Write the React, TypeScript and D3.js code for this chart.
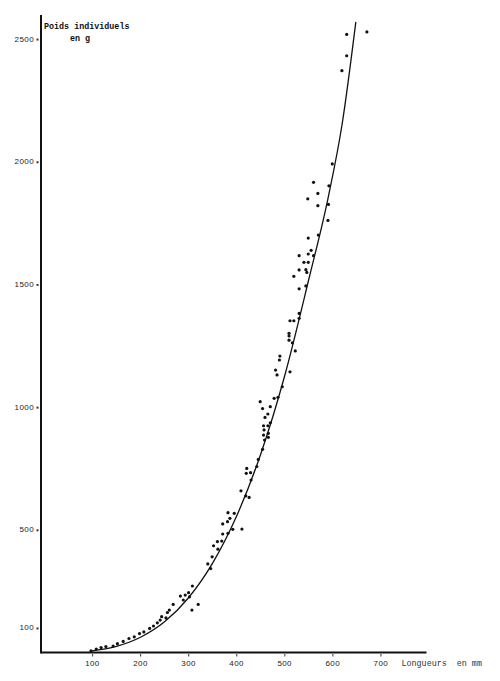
import React from "react";
import * as d3 from "d3";

const sampleLength = [
  97, 108, 118, 128, 143, 152, 164, 176, 187, 198, 207, 219, 227, 235, 241, 244, 253, 256, 260, 268,
  283, 289, 293, 300, 302, 307, 320, 308, 340, 346, 349, 352, 360, 361, 369, 371, 382, 392, 411, 371,
  381, 386, 382, 395, 409, 419, 426, 430, 421, 429, 420, 442, 445, 454, 458, 466, 456, 466, 457, 456,
  465, 470, 459, 465, 454, 470, 449, 478, 486, 495, 481, 484, 511, 490, 489, 522, 516, 509, 509, 509,
  511, 519, 530, 530, 544, 530, 519, 546, 544, 530, 549, 540, 560, 530, 549, 555, 549, 570, 590, 591,
  569, 548, 569, 592, 560, 599, 619, 629, 629, 671,
];
const sampleWeight = [
  7, 14, 20, 24, 26, 36, 45, 57, 64, 77, 84, 98, 108, 121, 132, 146, 141, 163, 173, 196,
  230, 214, 234, 244, 227, 173, 196, 271, 361, 342, 390, 435, 452, 421, 454, 483, 486, 502, 503, 524,
  533, 547, 570, 567, 659, 638, 632, 703, 750, 733, 730, 758, 787, 828, 866, 877, 886, 893, 907, 924,
  924, 936, 958, 972, 994, 1002, 1022, 1036, 1040, 1083, 1151, 1131, 1144, 1208, 1192, 1229, 1262, 1273, 1290, 1301,
  1352, 1352, 1362, 1382, 1494, 1482, 1533, 1549, 1560, 1559, 1590, 1590, 1617, 1617, 1624, 1639, 1689, 1701, 1761, 1826,
  1821, 1849, 1871, 1902, 1916, 1991, 2371, 2432, 2519, 2529,
];

const curveLength = [95, 150, 200, 250, 300, 350, 400, 450, 500, 550, 590, 620, 648];
const curveWeight = [6, 25, 62, 125, 223, 364, 556, 808, 1128, 1520, 1850, 2160, 2570];

const xTicks = [100, 200, 300, 400, 500, 600, 700];
const yTicks = [100, 500, 1000, 1500, 2000, 2500];

const yTitle1 = "Poids individuels";
const yTitle2 = "en g";
const xTitle = "Longueurs  en mm";

export default function App() {
  const W = 500;
  const H = 681;
  const x = d3.scaleLinear().domain([-7, 795]).range([41, 426.5]);
  const y = d3.scaleLinear().domain([0, 2598]).range([652.5, 15]);

  const pts = sampleLength.map((l, i) => [l, sampleWeight[i]] as [number, number]);
  const curvePts = curveLength.map((l, i) => [l, curveWeight[i]] as [number, number]);
  const line = d3
    .line<[number, number]>()
    .x((d) => x(d[0]))
    .y((d) => y(d[1]))
    .curve(d3.curveMonotoneX);

  const x0 = x(-7);
  const x1 = x(795);
  const yBase = y(0);
  const yTop = y(2598);

  return (
    <div style={{ position: "absolute", left: 0, top: 0, width: W, height: H, background: "#fff" }}>
      <svg width={W} height={H} viewBox={`0 0 ${W} ${H}`} style={{ display: "block" }}>
        <rect x={0} y={0} width={W} height={H} fill="#fff" />
        {/* axes */}
        <line x1={x0} y1={yTop} x2={x0} y2={yBase + 1} stroke="#111" strokeWidth={2} />
        <line x1={x0} y1={yBase} x2={x1} y2={yBase} stroke="#111" strokeWidth={2} />

        {/* y ticks */}
        {yTicks.map((t) => (
          <g key={"y" + t}>
            <rect x={36.5} y={y(t) - 0.5} width={2} height={2} fill="#333" />
            <text
              x={34}
              y={y(t) + 2.5}
              textAnchor="end"
              fontFamily="Liberation Sans, Arial, sans-serif"
              fontSize={8}
              letterSpacing={0.4}
              fill="#222"
            >
              {t}
            </text>
          </g>
        ))}

        {/* x ticks */}
        {xTicks.map((t) => (
          <g key={"x" + t}>
            <rect x={x(t) - 0.5} y={yBase + 1.5} width={1.2} height={2.5} fill="#555" />
            <text
              x={x(t)}
              y={yBase + 13}
              textAnchor="middle"
              fontFamily="Liberation Sans, Arial, sans-serif"
              fontSize={8}
              letterSpacing={0.4}
              fill="#222"
            >
              {t}
            </text>
          </g>
        ))}

        {/* titles */}
        <text
          x={44}
          y={29}
          fontFamily="Liberation Mono, Courier New, monospace"
          fontSize={8.4}
          fontWeight="bold"
          fill="#111"
          xmlSpace="preserve"
        >
          {yTitle1}
        </text>
        <text
          x={70}
          y={41}
          fontFamily="Liberation Mono, Courier New, monospace"
          fontSize={8.4}
          fontWeight="bold"
          fill="#111"
        >
          {yTitle2}
        </text>
        <text
          x={401.5}
          y={yBase + 13}
          fontFamily="Liberation Mono, Courier New, monospace"
          fontSize={8.4}
          fill="#333"
          style={{ whiteSpace: "pre" }}
        >
          {xTitle}
        </text>

        {/* fitted curve */}
        <path d={line(curvePts) || ""} fill="none" stroke="#111" strokeWidth={1.3} />

        {/* points */}
        {pts.map((d, i) => (
          <circle key={i} cx={x(d[0])} cy={y(d[1])} r={1.6} fill="#111" />
        ))}
      </svg>
    </div>
  );
}
